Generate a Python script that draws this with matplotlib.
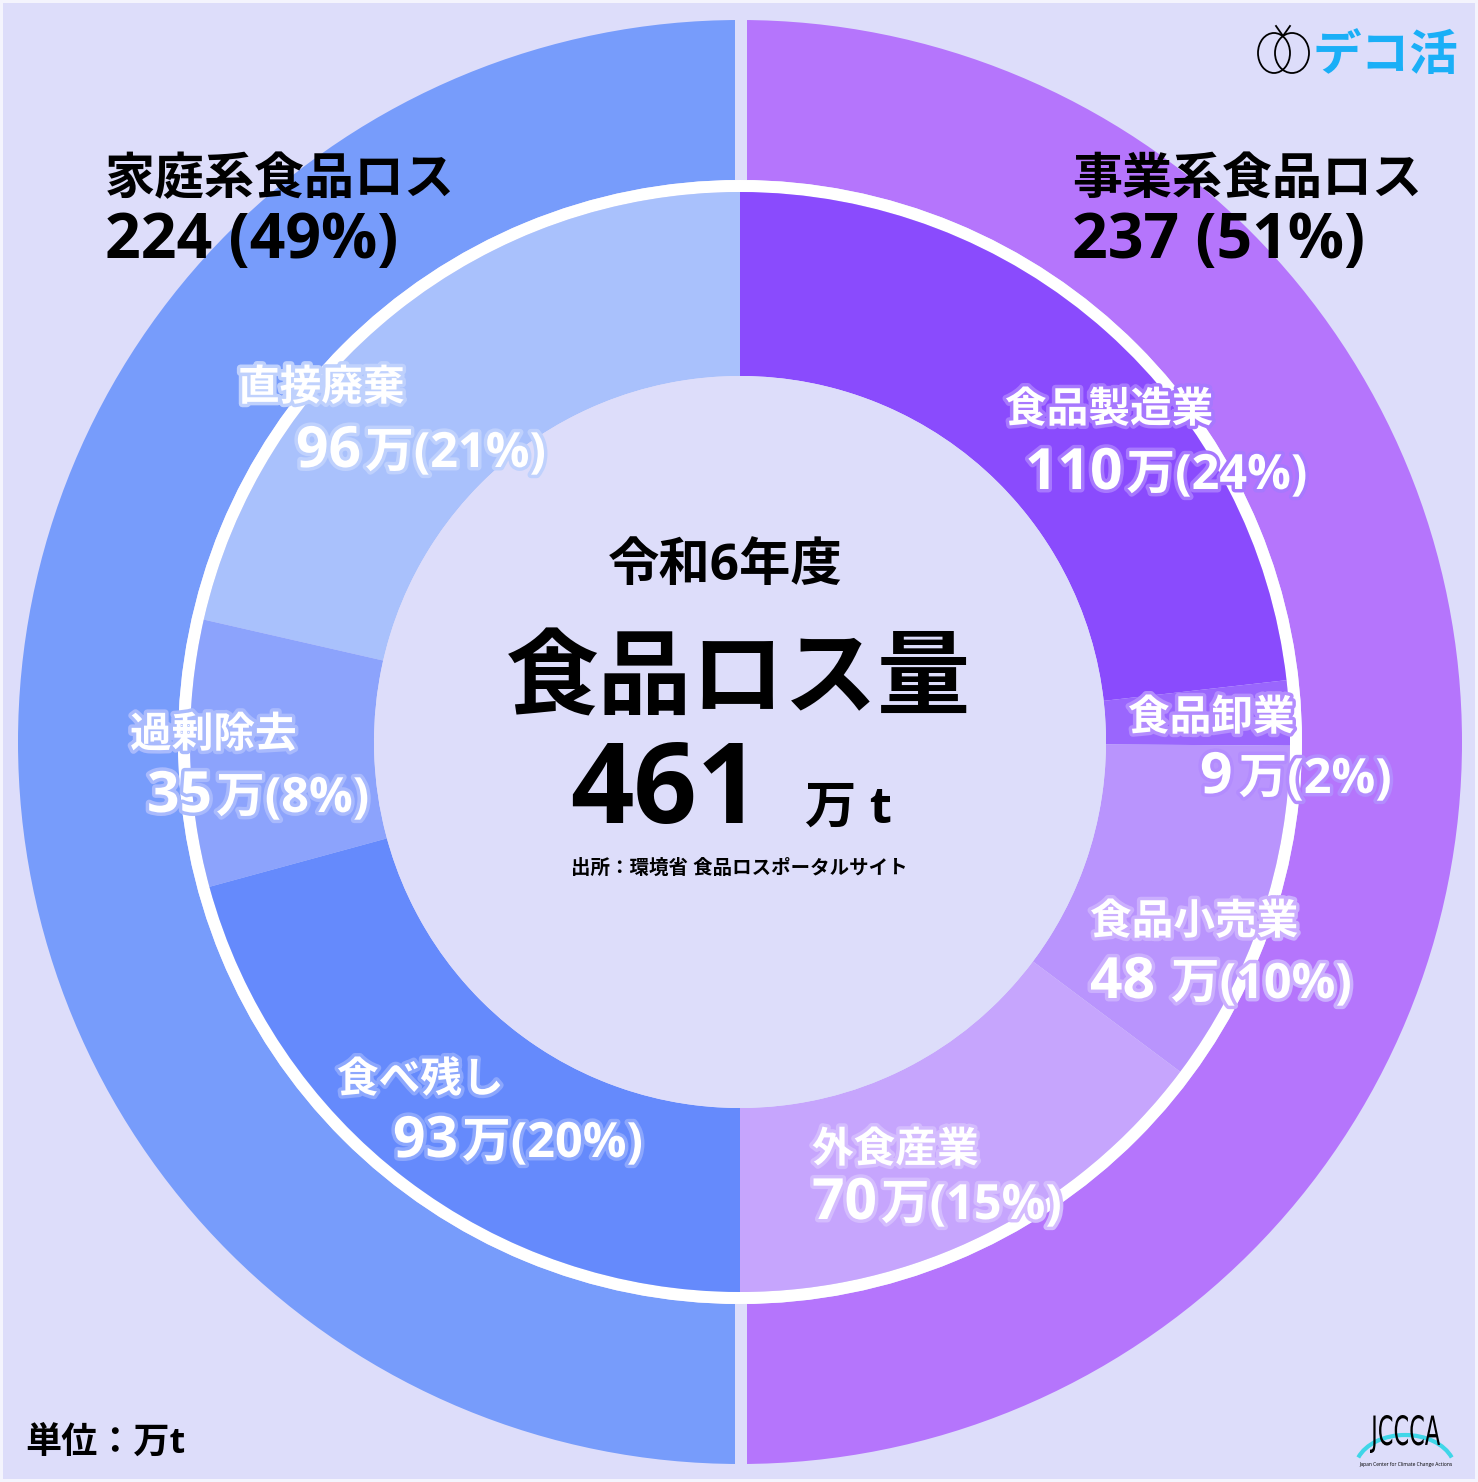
import matplotlib
matplotlib.use("Agg")
import matplotlib.pyplot as plt
import matplotlib.patheffects as pe
from matplotlib.patches import Wedge, Circle, Rectangle, Ellipse, Arc, PathPatch
from matplotlib.textpath import TextPath
from matplotlib.font_manager import FontProperties
from matplotlib.transforms import Affine2D
import matplotlib.colors as mcolors

W, H = 1478, 1482
DPI = 100

plt.rcParams["font.family"] = ["Open Sans", "Noto Sans CJK JP", "DejaVu Sans"]
plt.rcParams["font.weight"] = "bold"

# ---- data ----
GROUP_LABELS = ["家庭系食品ロス", "事業系食品ロス"]
GROUP_VALUES = [224, 237]
GROUP_PCT = [49, 51]

HOME_LABELS = ["直接廃棄", "過剰除去", "食べ残し"]
HOME_VALUES = [96, 35, 93]
HOME_PCT = [21, 8, 20]

BIZ_LABELS = ["食品製造業", "食品卸業", "食品小売業", "外食産業"]
BIZ_VALUES = [110, 9, 48, 70]
BIZ_PCT = [24, 2, 10, 15]

TOTAL = 461
YEAR_LABEL = "令和6年度"
TITLE = "食品ロス量"
UNIT = "万 t"
SOURCE = "出所：環境省 食品ロスポータルサイト"
UNIT_NOTE = "単位：万t"

# ---- style ----
BG = "#DDDDFA"
GROUP_COLORS = ["#779CFB", "#B575FC"]
HOME_COLORS = ["#A9C1FC", "#8CA3FC", "#658AFC"]
BIZ_COLORS = ["#8A4BFD", "#9A66FD", "#B994FD", "#C6A5FD"]

CX, CY = 740, 740          # ring centre (data coords, y up)
R_OUT, R_OUT_IN = 722, 562
R_IN, R_IN_IN = 550, 366

# label layout in pixel coords (x left, baseline y from top), gap between number and unit
HOME_POS = [(238, 400, 296, 467, 4), (130, 747, 147, 812, 4), (337, 1092, 393, 1157, 4)]
BIZ_POS = [(1005, 422, 1025, 489, 4), (1128, 730, 1200, 793, 6),
           (1090, 934, 1090, 998, 16), (812, 1162, 812, 1219, 4)]
GROUP_POS = [(105, 194, 258), (1072, 194, 258)]


def Y(py):
    return H - py


def lighten(c, f):
    r, g, b = mcolors.to_rgb(c)
    return (r + (1 - r) * f, g + (1 - g) * f, b + (1 - b) * f)


fig = plt.figure(figsize=(W / DPI, H / DPI), dpi=DPI, facecolor="#F4F4FD")
ax = fig.add_axes([0, 0, 1, 1])
ax.set_xlim(0, W)
ax.set_ylim(0, H)
ax.axis("off")
renderer = fig.canvas.get_renderer()

ax.add_patch(Rectangle((3, 3), W - 6, H - 6, facecolor=BG, edgecolor="none"))

# outer ring: each half takes 180 degrees
ax.add_patch(Wedge((CX, CY), R_OUT, 90, 270, width=R_OUT - R_OUT_IN, facecolor=GROUP_COLORS[0], edgecolor="none"))
ax.add_patch(Wedge((CX, CY), R_OUT, -90, 90, width=R_OUT - R_OUT_IN, facecolor=GROUP_COLORS[1], edgecolor="none"))
for sgn in (1, -1):
    ax.plot([CX + 1, CX + 1], [CY + sgn * R_OUT_IN, CY + sgn * (R_OUT + 6)], color=BG,
            lw=12 * 72 / DPI, solid_capstyle="butt")

# white separator
ax.add_patch(Wedge((CX, CY), R_OUT_IN, 0, 360, width=R_OUT_IN - R_IN, facecolor="white", edgecolor="none"))

# inner ring, household (counter-clockwise from top)
start = 90.0
home_sum = sum(HOME_VALUES)
for v, col in zip(HOME_VALUES, HOME_COLORS):
    span = v / home_sum * 180
    ax.add_patch(Wedge((CX, CY), R_IN, start, start + span, width=R_IN - R_IN_IN, facecolor=col, edgecolor="none"))
    start += span

# inner ring, business (clockwise from top)
start = 90.0
biz_sum = sum(BIZ_VALUES)
for v, col in zip(BIZ_VALUES, BIZ_COLORS):
    span = v / biz_sum * 180
    ax.add_patch(Wedge((CX, CY), R_IN, start - span, start, width=R_IN - R_IN_IN, facecolor=col, edgecolor="none"))
    start -= span

ax.add_patch(Circle((CX, CY), R_IN_IN, facecolor=BG, edgecolor="none"))


def seg_label(name, val, pct, pos, col):
    lx, lb, nx, nb, gap = pos
    halo = [pe.withStroke(linewidth=5, foreground=lighten(col, 0.25))]
    ax.text(lx, Y(lb), name, fontsize=30, color="white", ha="left", va="baseline", path_effects=halo)
    num = ax.text(nx, Y(nb), f"{val}", fontsize=41, color="white", ha="left", va="baseline", path_effects=halo)
    x_end = num.get_window_extent(renderer).x1
    ax.text(x_end + gap, Y(nb), f"万({pct}%)", fontsize=35, color="white", ha="left", va="baseline",
            path_effects=halo)


for name, val, pct, pos, col in zip(HOME_LABELS, HOME_VALUES, HOME_PCT, HOME_POS, HOME_COLORS):
    seg_label(name, val, pct, pos, col)
for name, val, pct, pos, col in zip(BIZ_LABELS, BIZ_VALUES, BIZ_PCT, BIZ_POS, BIZ_COLORS):
    seg_label(name, val, pct, pos, col)

# group headers
for name, val, pct, (gx, tb, nb) in zip(GROUP_LABELS, GROUP_VALUES, GROUP_PCT, GROUP_POS):
    ax.text(gx, Y(tb), name, fontsize=36, color="black", ha="left", va="baseline")
    ax.text(gx, Y(nb), f"{val} ({pct}%)", fontsize=45, color="black", ha="left", va="baseline")

# centre text
ax.text(725, Y(580), YEAR_LABEL, fontsize=37, color="black", ha="center", va="baseline")
ax.text(738, Y(707), TITLE, fontsize=67, color="black", ha="center", va="baseline")
ax.text(570, Y(823), f"{TOTAL}", fontsize=80, color="black", ha="left", va="baseline")
ax.text(805, Y(823), UNIT, fontsize=37, color="black", ha="left", va="baseline")
ax.text(739, Y(874), SOURCE, fontsize=14, color="black", ha="center", va="baseline")
ax.text(25, Y(1453), UNIT_NOTE, fontsize=26, color="black", ha="left", va="baseline")

# デコ活 logo
ax.add_patch(Ellipse((1274, Y(53)), 32, 40, facecolor="none", edgecolor="black", lw=1.3))
ax.add_patch(Ellipse((1292, Y(53)), 34, 40, facecolor="none", edgecolor="black", lw=1.3))
ax.plot([1276, 1283, 1290], [Y(26), Y(36), Y(26)], color="black", lw=1.3)
ax.text(1313, Y(70), "デコ活", fontsize=35, color="#1AAFF7", ha="left", va="baseline")

# JCCCA logo
ax.add_patch(Arc((1405, Y(1470)), 100, 70, theta1=15, theta2=165, color="#3FD6E8", lw=3))
tp = TextPath((0, 0), "JCCCA", size=20, prop=FontProperties(family="DejaVu Sans", weight="normal"))
ext = tp.get_extents()
sx, sy = 70 / ext.width, 38 / ext.height
tp = tp.transformed(Affine2D().translate(-ext.x0, -ext.y0).scale(sx, sy).translate(1370, Y(1453)))
ax.add_patch(PathPatch(tp, facecolor="black", edgecolor="none"))
ax.text(1406, Y(1466), "Japan Center for Climate Change Actions", fontsize=3.6, color="black",
        ha="center", va="baseline", fontweight="normal")

fig.savefig("out.png", dpi=DPI, facecolor=fig.get_facecolor())
